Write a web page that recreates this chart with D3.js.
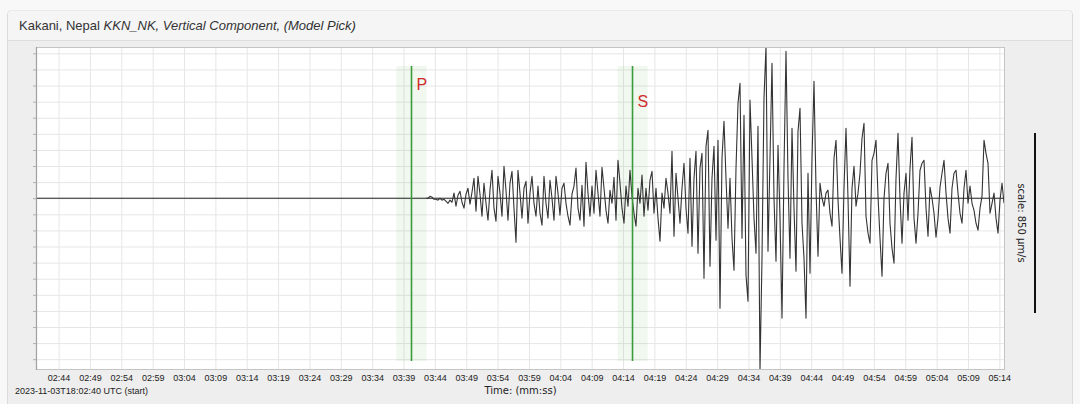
<!DOCTYPE html>
<html>
<head>
<meta charset="utf-8">
<script src="https://cdn.jsdelivr.net/npm/d3@7"></script>
<style>
  html, body { margin: 0; padding: 0; background: #f8f8f8; }
  svg { display: block; }
</style>
</head>
<body>
<svg id="chart" width="1080" height="404"></svg>
<script>
// ---------------- DATA ----------------
const titleNormal = "Kakani, Nepal ";
const titleItalic = "KKN_NK, Vertical Component, (Model Pick)";
const startLabel = "2023-11-03T18:02:40 UTC (start)";
const xAxisTitle = "Time: (mm:ss)";
const scaleLabel = "scale: 850 \u00b5m/s";
const scaleValue = 850; // µm/s

// time axis (seconds after 18:00:00)
const xDomain = [160.4, 314.9];
const xTickLabels = ["02:44","02:49","02:54","02:59","03:04","03:09","03:14","03:19","03:24","03:29",
  "03:34","03:39","03:44","03:49","03:54","03:59","04:04","04:09","04:14","04:19","04:24","04:29",
  "04:34","04:39","04:44","04:49","04:54","04:59","05:04","05:09","05:14"];

// amplitude axis (µm/s)
const yDomain = [-811, 714];
const yGridStep = 76;

// picks
const pickNames = ["P", "S"];
const pickTimes = [220.27, 255.51];
const pickHalfWidth = 2.4; // s (shaded uncertainty)

// waveform: uniform samples
const waveStart = 222.58;   // s
const waveDt = 0.3189;      // s
const waveValues = [
0, 0, 9, 5, -5, -5, -9, 0, -9, -5, -14, -24, -9, -19, 24,
-38, 14, 33, -19, -47, 19, 47, -28, 28, 94, -61, 104, 19, -85, 71,
-24, -104, 38, 132, -47, -109, 104, 24, -85, 151, 38, -104, 71, 127, -47,
-208, 132, 24, -94, 47, 80, -118, 24, 104, -24, -85, 57, -71, -127, 104,
-24, -94, 85, 0, -104, 104, 24, -80, 47, 71, -24, -85, -127, 19, 57,
142, -47, -104, 61, -132, 170, 24, -85, 57, -71, 132, 24, -85, 146, 47,
-57, -118, 38, -24, 99, -104, 179, 71, -47, -118, 57, -38, 132, 9, -71,
-132, 47, -24, 109, -85, 47, -57, 85, 127, -71, 47, -94, -203, 24, -47,
94, 24, -71, 222, -179, 118, 0, -118, 47, 165, -47, -165, 189, -227, 94,
222, -260, 142, 212, -378, 245, 321, -321, 94, 245, -198, 274, -519, 189, 363,
94, -142, 94, -189, -340, 142, 448, 543, -189, 392, -363, -486, 463, 189, -94,
-260, 340, -812, -283, 472, 717, -250, 189, 637, 0, -297, 250, -94, -566, 142,
694, 94, -283, 330, -47, -345, 316, 425, -118, -283, -566, 118, -354, 189, 552,
47, -274, 71, 0, -38, 24, 38, -71, -132, 189, 274, -9, -189, -354, 47,
330, 0, -415, 47, 151, -38, 24, 118, 283, 354, -85, -165, -212, 179, 212,
274, 9, -189, -368, 0, 118, 165, -118, -236, -307, 94, 307, 0, -212, 24,
118, -104, 142, 288, -94, -212, -71, 132, 165, 179, -47, -179, 52, 0, -71,
-184, -94, 52, 118, 179, 24, -94, -165, 47, 118, 132, 24, -71, -118, 47,
132, -24, 57, -24, -57, -118, -151, -47, 9, 274, 212, 165, -71, -24, 24, -94, -165, -9, 71, -24
];

// ---------------- LAYOUT ----------------
const W = 1080, H = 404;
const plot = { left: 36, top: 47, right: 1005, bottom: 370 };

const svg = d3.select("#chart");

// panel
svg.append("rect").attr("x", 0).attr("y", 0).attr("width", W).attr("height", H).attr("fill", "#f8f8f8");
svg.append("rect").attr("x", 7.5).attr("y", 10.5).attr("width", 1065).attr("height", 420)
  .attr("rx", 4).attr("fill", "#eeeeee").attr("stroke", "#dcdcdc");
svg.append("path").attr("d", "M8,40.5 H1072 V14.5 a4,4 0 0 0 -4,-4 H12 a4,4 0 0 0 -4,4 Z")
  .attr("fill", "#f5f5f5");
svg.append("line").attr("x1", 8).attr("x2", 1072).attr("y1", 40.5).attr("y2", 40.5).attr("stroke", "#dddddd");

const title = svg.append("text").attr("x", 19).attr("y", 30)
  .attr("font-family", "'Liberation Sans', Arial, sans-serif").attr("font-size", 13).attr("fill", "#333");
title.append("tspan").text(titleNormal);
title.append("tspan").attr("font-style", "italic").text(titleItalic);

// scales
const x = d3.scaleLinear().domain(xDomain).range([plot.left, plot.right]);
const y = d3.scaleLinear().domain(yDomain).range([plot.bottom, plot.top]);

const parseMMSS = s => { const [m, ss] = s.split(":").map(Number); return m * 60 + ss; };
const xTicks = xTickLabels.map(parseMMSS);
const yGrid = d3.range(0, yDomain[1], yGridStep).concat(d3.range(-yGridStep, yDomain[0], -yGridStep));

// plot background
svg.append("rect").attr("x", plot.left).attr("y", plot.top)
  .attr("width", plot.right - plot.left).attr("height", plot.bottom - plot.top).attr("fill", "#ffffff");

// grid
const gx = svg.append("g").attr("transform", `translate(0,${plot.bottom})`)
  .call(d3.axisBottom(x).tickValues(xTicks).tickSize(-(plot.bottom - plot.top)).tickFormat(""));
gx.select(".domain").remove();
gx.selectAll("line").attr("stroke", "#e6e6e6");

const gy = svg.append("g").attr("transform", `translate(${plot.left},0)`)
  .call(d3.axisLeft(y).tickValues(yGrid).tickSize(-(plot.right - plot.left)).tickFormat(""));
gy.select(".domain").remove();
gy.selectAll("line").attr("stroke", "#e6e6e6");

// left small ticks
const gyt = svg.append("g").attr("transform", `translate(${plot.left},0)`)
  .call(d3.axisLeft(y).tickValues(yGrid).tickSize(3).tickFormat(""));
gyt.select(".domain").remove();
gyt.selectAll("line").attr("stroke", "#b0b0b0");

// picks (bands)
const pickTop = 66, pickBottom = 361;
svg.selectAll("rect.band").data(pickTimes).enter().append("rect").attr("class", "band")
  .attr("x", d => x(d - pickHalfWidth)).attr("width", d => x(d + pickHalfWidth) - x(d - pickHalfWidth))
  .attr("y", pickTop).attr("height", pickBottom - pickTop)
  .attr("fill", "rgba(70,170,70,0.08)");

// clip
svg.append("clipPath").attr("id", "clip").append("rect")
  .attr("x", plot.left).attr("y", plot.top)
  .attr("width", plot.right - plot.left).attr("height", plot.bottom - plot.top);

// zero line
svg.append("line").attr("x1", plot.left).attr("x2", plot.right)
  .attr("y1", y(0)).attr("y2", y(0)).attr("stroke", "#222").attr("stroke-width", 1);

// waveform
const line = d3.line().x((d, i) => x(waveStart + i * waveDt)).y(d => y(d));
svg.append("path").datum(waveValues).attr("clip-path", "url(#clip)")
  .attr("d", line).attr("fill", "none").attr("stroke", "#333").attr("stroke-width", 1.1)
  .attr("stroke-linejoin", "round");

// pick lines
svg.selectAll("line.pick").data(pickTimes).enter().append("line").attr("class", "pick")
  .attr("x1", d => x(d)).attr("x2", d => x(d)).attr("y1", pickTop).attr("y2", pickBottom)
  .attr("stroke", "#3b9a3b").attr("stroke-width", 1.6);
const pickLabelY = [90, 107];
svg.selectAll("text.pick").data(pickTimes).enter().append("text").attr("class", "pick")
  .attr("x", d => x(d) + 5).attr("y", (d, i) => pickLabelY[i])
  .attr("font-family", "'Liberation Sans', Arial, sans-serif").attr("font-size", 16)
  .attr("fill", "#d02a2a").text((d, i) => pickNames[i]);

// frame
svg.append("rect").attr("x", plot.left + 0.5).attr("y", plot.top + 0.5)
  .attr("width", plot.right - plot.left - 1).attr("height", plot.bottom - plot.top - 1)
  .attr("fill", "none").attr("stroke", "#c4c4c4");
svg.append("line").attr("x1", plot.left + 0.5).attr("x2", plot.left + 0.5)
  .attr("y1", plot.top).attr("y2", plot.bottom).attr("stroke", "#a0a0a0").attr("stroke-width", 1.2);

// x axis labels
const ax = svg.append("g").attr("transform", `translate(0,${plot.bottom})`)
  .call(d3.axisBottom(x).tickValues(xTicks).tickSize(0).tickPadding(4.5)
    .tickFormat((d, i) => xTickLabels[i]));
ax.select(".domain").remove();
ax.selectAll("text").attr("font-family", "'Liberation Sans', Arial, sans-serif")
  .attr("font-size", 9).attr("fill", "#222");

svg.append("text").attr("x", (plot.left + plot.right) / 2).attr("y", 393.5)
  .attr("text-anchor", "middle").attr("font-family", "'DejaVu Sans', sans-serif")
  .attr("font-size", 10).attr("fill", "#222").text(xAxisTitle);

svg.append("text").attr("x", 15).attr("y", 394)
  .attr("font-family", "'Liberation Sans', Arial, sans-serif")
  .attr("font-size", 9).attr("fill", "#222").text(startLabel);

// scale bar
const barLen = y(0) - y(scaleValue);
const barCenter = 223;
svg.append("line").attr("x1", 1035).attr("x2", 1035)
  .attr("y1", barCenter - barLen / 2).attr("y2", barCenter + barLen / 2)
  .attr("stroke", "#111").attr("stroke-width", 2);
svg.append("text").attr("transform", `translate(1021,${barCenter}) rotate(90)`)
  .attr("text-anchor", "middle").attr("dominant-baseline", "central")
  .attr("font-family", "'DejaVu Sans', sans-serif").attr("font-size", 10).attr("fill", "#222")
  .text(scaleLabel);
</script>
</body>
</html>
